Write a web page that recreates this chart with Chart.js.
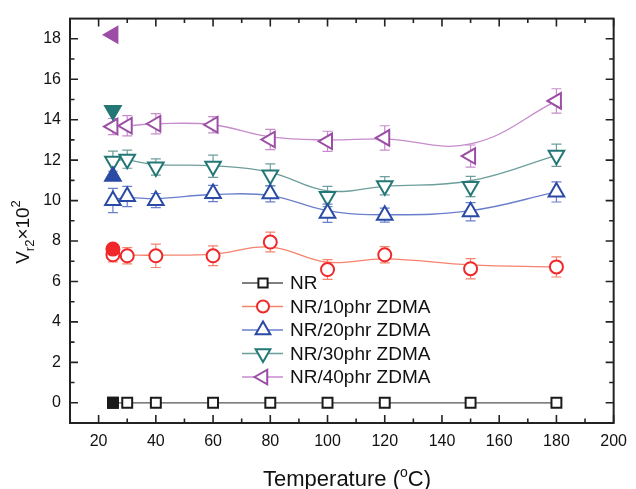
<!DOCTYPE html>
<html>
<head>
<meta charset="utf-8">
<script src="https://cdn.jsdelivr.net/npm/chart.js"></script>
<style>
    body { margin: 0; background: #fff; }
    #wrap { width: 636px; height: 489px; }
</style>
</head>
<body>
<div id="wrap"><canvas id="chart" width="636" height="489"></canvas></div>
<script>
// temperatures (°C) of the open markers
var temps = [25, 30, 40, 60, 80, 100, 120, 150, 180];

// Vr2 x 10^2, measured points
var nr = [0, 0, 0, 0, 0, 0, 0, 0, 0];
var zdma10 = [7.32, 7.27, 7.27, 7.27, 7.95, 6.59, 7.32, 6.63, 6.72];
var zdma20 = [10.0, 10.2, 10.0, 10.35, 10.34, 9.37, 9.28, 9.45, 10.43];
var zdma30 = [11.95, 12.05, 11.66, 11.7, 11.27, 10.2, 10.73, 10.7, 12.24];
var zdma40 = [13.66, 13.7, 13.8, 13.75, 13.02, 12.93, 13.1, 12.2, 14.93];

// error bars (+/-)
var errNr = [0, 0, 0, 0, 0, 0, 0, 0, 0];
var err10 = [0.35, 0.4, 0.58, 0.49, 0.49, 0.49, 0.4, 0.5, 0.5];
var err20 = [0.6, 0.5, 0.35, 0.4, 0.4, 0.45, 0.35, 0.45, 0.5];
var err30 = [0.5, 0.45, 0.4, 0.55, 0.55, 0.5, 0.45, 0.5, 0.55];
var err40 = [0.4, 0.5, 0.5, 0.4, 0.5, 0.5, 0.6, 0.55, 0.6];

// smoothed curve values read at the same temperatures
var fitNr = [0, 0, 0, 0, 0, 0, 0, 0, 0];
var fit10 = [7.3, 7.3, 7.3, 7.35, 7.7, 6.95, 7.12, 6.82, 6.72];
var fit20 = [10.05, 10.15, 10.1, 10.3, 10.25, 9.5, 9.3, 9.5, 10.43];
var fit30 = [12.0, 12.0, 11.78, 11.72, 11.4, 10.48, 10.7, 10.98, 12.24];
var fit40 = [13.7, 13.7, 13.8, 13.75, 13.15, 13.0, 13.05, 12.8, 14.93];

// filled markers at room temperature
var filledTemp = 25;
var filled = [0, 7.6, 11.2, 14.45, 18.2];

var seriesNames = ['NR', 'NR/10phr ZDMA', 'NR/20phr ZDMA', 'NR/30phr ZDMA', 'NR/40phr ZDMA'];

var xTicks = [20, 40, 60, 80, 100, 120, 140, 160, 180, 200];
var xMinor = [30, 50, 70, 90, 110, 130, 150, 170, 190];
var yTicks = [0, 2, 4, 6, 8, 10, 12, 14, 16, 18];
var yMinor = [-1, 1, 3, 5, 7, 9, 11, 13, 15, 17];

var FONT = "'Liberation Sans', Arial, sans-serif";

var styles = [
    {mark: '#1a1a1a', line: '#555555', shape: 'rect', rot: 0, r: 7},
    {mark: '#f0282a', line: '#f5836e', shape: 'circle', rot: 0, r: 6.5},
    {mark: '#2a4aa6', line: '#6a7fcc', shape: 'triangle', rot: 0, r: 9},
    {mark: '#237876', line: '#6d9e9c', shape: 'triangle', rot: 180, r: 9},
    {mark: '#9c4ea6', line: '#c68ccc', shape: 'triangle', rot: 270, r: 9}
];

var points = [nr, zdma10, zdma20, zdma30, zdma40];
var errs = [errNr, err10, err20, err30, err40];
var fits = [fitNr, fit10, fit20, fit30, fit40];

function toXY(ys) {
    return ys.map(function (v, i) { return {x: temps[i], y: v}; });
}

var datasets = [];
for (var i = 0; i < styles.length; i++) {
    var s = styles[i];
    datasets.push({
        label: seriesNames[i] + ' filled',
        data: [{x: filledTemp, y: filled[i]}],
        pointStyle: s.shape,
        rotation: s.rot,
        pointRadius: s.r,
        pointBackgroundColor: s.mark,
        pointBorderColor: s.mark,
        pointBorderWidth: 2,
        showLine: false,
        order: 0
    });
    datasets.push({
        label: seriesNames[i],
        data: toXY(points[i]),
        pointStyle: s.shape,
        rotation: s.rot,
        pointRadius: s.r,
        pointBackgroundColor: '#ffffff',
        pointBorderColor: s.mark,
        pointBorderWidth: 2,
        showLine: false,
        order: 1
    });
    datasets.push({
        label: seriesNames[i] + ' fit',
        data: toXY(fits[i]),
        borderColor: s.line,
        borderWidth: 1.3,
        pointRadius: 0,
        showLine: true,
        tension: 0.4,
        order: 5
    });
}

var errorBars = {
    id: 'errorBars',
    beforeDatasetsDraw: function (chart) {
        var ctx = chart.ctx, xs = chart.scales.x, ys = chart.scales.y;
        ctx.save();
        ctx.lineWidth = 1.2;
        for (var i = 0; i < points.length; i++) {
            ctx.strokeStyle = styles[i].line;
            for (var j = 0; j < temps.length; j++) {
                if (!errs[i][j]) continue;
                var px = xs.getPixelForValue(temps[j]);
                var top = ys.getPixelForValue(points[i][j] + errs[i][j]);
                var bot = ys.getPixelForValue(points[i][j] - errs[i][j]);
                ctx.beginPath();
                ctx.moveTo(px, top); ctx.lineTo(px, bot);
                ctx.moveTo(px - 5, top); ctx.lineTo(px + 5, top);
                ctx.moveTo(px - 5, bot); ctx.lineTo(px + 5, bot);
                ctx.stroke();
            }
        }
        ctx.restore();
    }
};

var frame = {
    id: 'frame',
    afterDraw: function (chart) {
        var ctx = chart.ctx, a = chart.chartArea, xs = chart.scales.x, ys = chart.scales.y;
        ctx.save();
        ctx.strokeStyle = '#222';
        ctx.lineWidth = 2;
        ctx.strokeRect(a.left, a.top, a.right - a.left, a.bottom - a.top);
        ctx.lineWidth = 1.6;
        ctx.beginPath();
        function xt(v, len) {
            var p = xs.getPixelForValue(v);
            ctx.moveTo(p, a.bottom); ctx.lineTo(p, a.bottom - len);
            ctx.moveTo(p, a.top); ctx.lineTo(p, a.top + len);
        }
        function yt(v, len) {
            var p = ys.getPixelForValue(v);
            ctx.moveTo(a.left, p); ctx.lineTo(a.left + len, p);
            ctx.moveTo(a.right, p); ctx.lineTo(a.right - len, p);
        }
        xTicks.forEach(function (v) { xt(v, 8); });
        xMinor.forEach(function (v) { xt(v, 4.5); });
        yTicks.forEach(function (v) { yt(v, 8); });
        yMinor.forEach(function (v) { yt(v, 4.5); });
        ctx.stroke();

        // legend
        var lx = 242, ly = 283, step = 23.5;
        for (var i = 0; i < styles.length; i++) {
            var s = styles[i], y = ly + i * step;
            ctx.strokeStyle = s.line;
            ctx.lineWidth = 1.5;
            ctx.beginPath();
            ctx.moveTo(lx, y); ctx.lineTo(lx + 41, y);
            ctx.stroke();
            ctx.strokeStyle = s.mark;
            ctx.fillStyle = '#fff';
            ctx.lineWidth = 2;
            Chart.helpers.drawPoint(ctx, {pointStyle: s.shape, rotation: s.rot, radius: s.r - 0.5, borderWidth: 2}, lx + 21, y);
            ctx.fillStyle = '#111';
            ctx.font = '19px ' + FONT;
            ctx.textAlign = 'left';
            ctx.textBaseline = 'middle';
            ctx.fillText(seriesNames[i], lx + 48, y + 1);
        }

        // x title
        ctx.fillStyle = '#111';
        ctx.textBaseline = 'alphabetic';
        ctx.textAlign = 'left';
        var big = '22px ' + FONT, small = '14px ' + FONT;
        ctx.font = big;
        var w1 = ctx.measureText('Temperature (').width, w3 = ctx.measureText('C)').width;
        ctx.font = small;
        var w2 = ctx.measureText('o').width;
        var x0 = 347 - (w1 + w2 + w3) / 2, yb = 486;
        ctx.font = big; ctx.fillText('Temperature (', x0, yb);
        ctx.font = small; ctx.fillText('o', x0 + w1, yb - 9);
        ctx.font = big; ctx.fillText('C)', x0 + w1 + w2, yb);

        // y title
        ctx.translate(29, 232);
        ctx.rotate(-Math.PI / 2);
        var b = '19px ' + FONT, sm = '13px ' + FONT;
        var parts = [['V', b, 0], ['r2', sm, 5], ['\u00d710', b, 0], ['2', sm, -9]];
        var tot = 0;
        parts.forEach(function (p) { ctx.font = p[1]; p.push(ctx.measureText(p[0]).width); tot += p[3]; });
        var cx = -tot / 2;
        parts.forEach(function (p) {
            ctx.font = p[1];
            ctx.fillText(p[0], cx, p[2]);
            cx += p[3];
        });
        ctx.restore();
    }
};

Chart.defaults.font.family = FONT;
Chart.defaults.color = '#111';

var ctx = document.getElementById('chart').getContext('2d');
var myChart = new Chart(ctx, {
    type: 'scatter',
    data: {datasets: datasets},
    options: {
        responsive: false,
        animation: false,
        layout: {padding: {left: 0, right: 15, top: 13, bottom: 0}},
        plugins: {legend: {display: false}, tooltip: {enabled: false}},
        scales: {
            x: {
                type: 'linear', min: 10, max: 200,
                grid: {display: false, drawTicks: false},
                border: {display: false},
                afterFit: function (s) { s.height = 66; },
                afterBuildTicks: function (s) { s.ticks = xTicks.map(function (v) { return {value: v}; }); },
                ticks: {padding: 9, font: {size: 16}, maxRotation: 0, autoSkip: false}
            },
            y: {
                type: 'linear', min: -1, max: 19,
                grid: {display: false, drawTicks: false},
                border: {display: false},
                afterFit: function (s) { s.width = 70; },
                afterBuildTicks: function (s) { s.ticks = yTicks.map(function (v) { return {value: v}; }); },
                ticks: {padding: 9, font: {size: 16}, autoSkip: false}
            }
        }
    },
    plugins: [errorBars, frame]
});
</script>
</body>
</html>
